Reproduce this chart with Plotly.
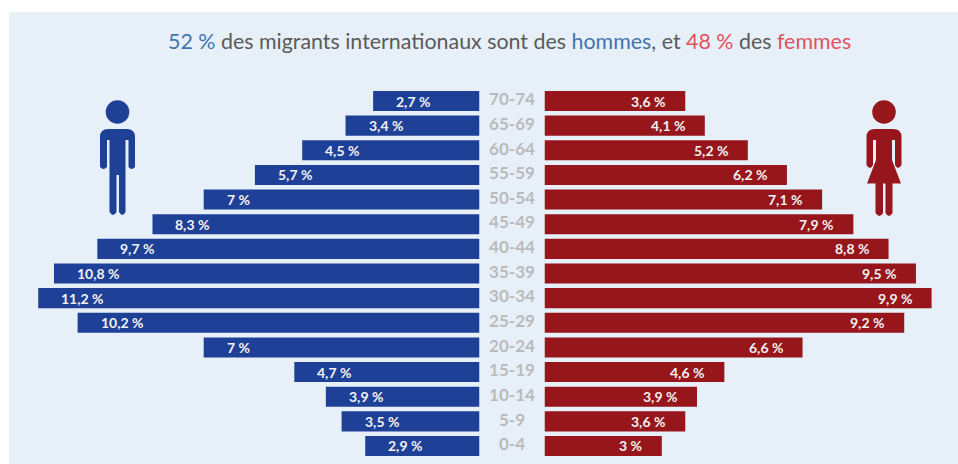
import plotly.graph_objects as go

ages = ["70-74","65-69","60-64","55-59","50-54","45-49","40-44","35-39","30-34","25-29","20-24","15-19","10-14","5-9","0-4"]
hommes = [2.7,3.4,4.5,5.7,7,8.3,9.7,10.8,11.2,10.2,7,4.7,3.9,3.5,2.9]
femmes = [3.6,4.1,5.2,6.2,7.1,7.9,8.8,9.5,9.9,9.2,6.6,4.6,3.9,3.6,3]
title_parts = [("52 %","#3F74B0"),(" des migrants internationaux sont des ","#5A5A5A"),("hommes","#3F74B0"),
               (", et ","#5A5A5A"),("48 %","#E0525F"),(" des ","#5A5A5A"),("femmes","#E0525F")]

W, H = 958, 464
BLUE, RED = "#1F4097", "#96161C"
FONT = "Lato"
px = lambda x: x / W
py = lambda y: 1 - y / H
def fr(v):
    return f"{v:g}".replace(".", ",") + " %"

fig = go.Figure()
fig.add_trace(go.Bar(y=ages, x=[-v for v in hommes], orientation="h", marker=dict(color=BLUE, line_width=0),
                     xaxis="x", yaxis="y", hoverinfo="skip"))
fig.add_trace(go.Scatter(y=ages, x=[0]*len(ages), mode="text", text=ages, xaxis="x2", yaxis="y", hoverinfo="skip",
                         textfont=dict(family=FONT, size=17, color="#BBBBBB", weight=700), textposition="middle center"))
fig.add_trace(go.Bar(y=ages, x=femmes, orientation="h", marker=dict(color=RED, line_width=0),
                     xaxis="x3", yaxis="y", hoverinfo="skip"))

ann = []
for a, v in zip(ages, hommes):
    ann.append(dict(x=-v, y=a, xref="x", yref="y", text=fr(v), showarrow=False, xanchor="left", xshift=21,
                    font=dict(family=FONT, size=14, color="#F2F2F2", weight=700)))
for a, v in zip(ages, femmes):
    ann.append(dict(x=v, y=a, xref="x3", yref="y", text=fr(v), showarrow=False, xanchor="right", xshift=-18,
                    font=dict(family=FONT, size=14, color="#F2F2F2", weight=700)))
title = "".join(f'<span style="color:{c}">{t}</span>' for t, c in title_parts)
ann.append(dict(x=px(510), y=py(41), xref="paper", yref="paper", text=title, showarrow=False, xanchor="center",
                yanchor="middle", font=dict(family=FONT, size=21.4)))

def P(x, y):
    return f"{px(x):.5f},{py(y):.5f}"

def male(cx, color):
    d = ("M" + P(cx-17.5, 137) + " Q" + P(cx-17.5, 129) + " " + P(cx-9, 129) + " L" + P(cx+9, 129)
         + " Q" + P(cx+17.5, 129) + " " + P(cx+17.5, 137) + " L" + P(cx+17.5, 167) + " Q" + P(cx+14, 171) + " " + P(cx+11, 167)
         + " L" + P(cx+11, 140) + " L" + P(cx+8, 140) + " L" + P(cx+8, 212) + " Q" + P(cx+5, 218) + " " + P(cx+1.5, 212)
         + " L" + P(cx+1.5, 175) + " L" + P(cx-1, 175) + " L" + P(cx-1, 212) + " Q" + P(cx-4.5, 218) + " " + P(cx-8, 212)
         + " L" + P(cx-8, 140) + " L" + P(cx-10.5, 140) + " L" + P(cx-10.5, 167) + " Q" + P(cx-14, 171) + " " + P(cx-17.5, 167) + " Z")
    return dict(type="path", path=d, xref="paper", yref="paper", fillcolor=color, line_width=0, layer="above")

def female(cx, color):
    d = ("M" + P(cx-17.5, 137) + " Q" + P(cx-17.5, 129) + " " + P(cx-9, 129) + " L" + P(cx+9, 129)
         + " Q" + P(cx+17.5, 129) + " " + P(cx+17.5, 137) + " L" + P(cx+17.5, 165) + " Q" + P(cx+14, 171) + " " + P(cx+11, 165)
         + " L" + P(cx+11, 140) + " L" + P(cx+8, 140) + " L" + P(cx+8, 160) + " L" + P(cx+17, 183.5) + " L" + P(cx+8.5, 183.5)
         + " L" + P(cx+8.5, 213) + " Q" + P(cx+5, 219) + " " + P(cx+1.5, 213) + " L" + P(cx+1.5, 183.5) + " L" + P(cx-1, 183.5)
         + " L" + P(cx-1, 213) + " Q" + P(cx-4.5, 219) + " " + P(cx-8.5, 213) + " L" + P(cx-8.5, 183.5) + " L" + P(cx-17, 183.5)
         + " L" + P(cx-8, 160) + " L" + P(cx-8, 140) + " L" + P(cx-11, 140) + " L" + P(cx-11, 165) + " Q" + P(cx-14, 171) + " " + P(cx-17.5, 165) + " Z")
    return dict(type="path", path=d, xref="paper", yref="paper", fillcolor=color, line_width=0, layer="above")

def head(cx, cy, r, color):
    return dict(type="circle", xref="paper", yref="paper", x0=px(cx-r), x1=px(cx+r), y0=py(cy+r), y1=py(cy-r),
                fillcolor=color, line_width=0, layer="above")

shapes = [
    dict(type="rect", xref="paper", yref="paper", x0=px(9), x1=1, y0=0, y1=py(12), fillcolor="#E7F0F9", line_width=0, layer="below"),
    head(117.5, 112, 11.8, BLUE), male(117.5, BLUE),
    head(884, 112, 11.8, RED), female(884, RED),
]

axis_off = dict(showgrid=False, zeroline=False, showticklabels=False, ticks="", showline=False, fixedrange=True)
fig.update_layout(
    width=W, height=H, margin=dict(l=0, r=0, t=0, b=0), paper_bgcolor="white", plot_bgcolor="rgba(0,0,0,0)",
    showlegend=False, bargap=0.185, annotations=ann, shapes=shapes,
    xaxis=dict(domain=[px(9), px(479.5)], range=[-470.5/39.4, 0], anchor="y", **axis_off),
    xaxis2=dict(domain=[px(479.5), px(544.5)], range=[-1, 1], anchor="y", **axis_off),
    xaxis3=dict(domain=[px(544.5), 1], range=[0, 413.5/39.1], anchor="y", **axis_off),
    yaxis=dict(domain=[py(458.3), py(88.7)], type="category", categoryorder="array", categoryarray=ages,
               range=[len(ages)-0.5, -0.5], anchor="x", **axis_off),
)
fig.write_html("out.html", config=dict(displayModeBar=False),
               post_script="document.body.style.margin='0';document.documentElement.style.overflow='hidden';")
